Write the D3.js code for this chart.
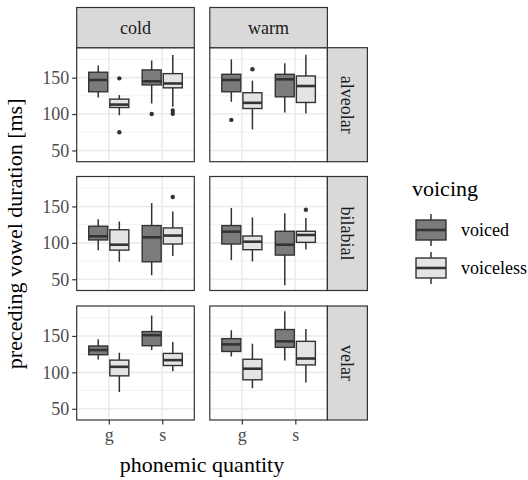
<!DOCTYPE html>
<html><head><meta charset="utf-8">
<script src="https://cdn.jsdelivr.net/npm/d3@7"></script>
<style>body{margin:0;background:#fff}svg{display:block}text{font-family:"Liberation Serif","Times New Roman",serif}</style>
</head><body><svg id="c" width="528" height="480"></svg>
<script>
const temps = ["cold", "warm"];
const places = ["alveolar", "bilabial", "velar"];
const quantities = ["g", "s"];
const voicings = ["voiced", "voiceless"];
const yTicks = [50, 100, 150];
const yMinor = [75, 125, 175];
// [temp, quantity, voicing, lowerWhisker, q1, median, q3, upperWhisker]
const alveolarStats = [
  ["cold","g","voiced",122.8,130.6,146.8,157.4,166.6],
  ["cold","g","voiceless",98.4,109,113,120.5,126],
  ["cold","s","voiced",114.5,140,145,160.6,173.5],
  ["cold","s","voiceless",110,136,142,155.5,181],
  ["warm","g","voiced",116.8,130.6,146.8,154.6,175],
  ["warm","g","voiceless",79,107.6,115.4,129.3,145.9],
  ["warm","s","voiced",102,123.7,147.7,154.6,169.8],
  ["warm","s","voiceless",100.7,115.9,138.5,152.3,181.3]
];
const bilabialStats = [
  ["cold","g","voiced",90,104,109,122.8,132.5],
  ["cold","g","voiceless",74,90,97.5,118,129.3],
  ["cold","s","voiced",55.5,74,107.6,123.7,154.6],
  ["cold","s","voiceless",81.8,98.4,110,120.5,143],
  ["warm","g","voiced",76.3,98.4,115.4,123.7,148],
  ["warm","g","voiceless",74.4,90.6,101.6,109.4,135],
  ["warm","s","voiced",41.7,83.2,97.5,115.9,140.8],
  ["warm","s","voiceless",91,100.7,110.8,115.9,134.3]
];
const velarStats = [
  ["cold","g","voiced",117.7,124.2,130.6,136.2,145.4],
  ["cold","g","voiceless",73,95.2,107.6,116.8,127],
  ["cold","s","voiced",130.6,136.6,151,156,178],
  ["cold","s","voiceless",101.6,109.4,116.8,126,141.7],
  ["warm","g","voiced",121.8,128.7,138.4,146.3,157.9],
  ["warm","g","voiceless",78.2,89.8,105,118,139.4],
  ["warm","s","voiced",116.2,134.3,142.6,158.8,184],
  ["warm","s","voiceless",86,110.2,119,142.6,159.7]
];
// [place, temp, quantity, voicing, value]
const outliers = [
  ["alveolar","cold","g","voiceless",149],
  ["alveolar","cold","g","voiceless",75],
  ["alveolar","cold","s","voiced",100],
  ["alveolar","cold","s","voiceless",105],
  ["alveolar","cold","s","voiceless",100.5],
  ["alveolar","warm","g","voiced",92],
  ["alveolar","warm","g","voiceless",161.5],
  ["bilabial","cold","s","voiceless",163],
  ["bilabial","warm","s","voiceless",145.4]
];
const fills = ["#7b7b7b", "#e4e4e4"];

const FONT = "'Liberation Serif', 'Times New Roman', serif";
const statsByPlace = {alveolar: alveolarStats, bilabial: bilabialStats, velar: velarStats};
const svg = d3.select("#c");
const colX = [76.7, 209.8], panelW = 117.6;
const rowY = [47.7, 176.5, 306], panelH = 114;
const allVals = [...alveolarStats, ...bilabialStats, ...velarStats].flatMap(r => [r[3], r[7]]).concat(outliers.map(o => o[4]));
const ext = d3.extent(allVals), pad = (ext[1] - ext[0]) * 0.05;
const y = d3.scaleLinear().domain([ext[0] - pad, ext[1] + pad]).range([panelH, 0]);
const x = d3.scalePoint().domain(quantities).range([0, panelW]).padding(0.6);
const sub = d3.scaleBand().domain(voicings).range([-0.375 * x.step(), 0.375 * x.step()]).paddingInner(0.1);
const color = d3.scaleOrdinal().domain(voicings).range(fills);

places.forEach((pl, ri) => {
  temps.forEach((tp, ci) => {
    const g = svg.append("g").attr("transform", `translate(${colX[ci]},${rowY[ri]})`);
    g.append("rect").attr("width", panelW).attr("height", panelH).attr("fill", "#fff");
    yMinor.forEach(v => g.append("line").attr("x1", 0).attr("x2", panelW).attr("y1", y(v)).attr("y2", y(v)).attr("stroke", "#f2f2f2").attr("stroke-width", 1));
    yTicks.forEach(v => g.append("line").attr("x1", 0).attr("x2", panelW).attr("y1", y(v)).attr("y2", y(v)).attr("stroke", "#ebebeb").attr("stroke-width", 1.6));
    quantities.forEach(q => g.append("line").attr("x1", x(q)).attr("x2", x(q)).attr("y1", 0).attr("y2", panelH).attr("stroke", "#ebebeb").attr("stroke-width", 1.6));
    const rows = statsByPlace[pl].filter(r => r[0] === tp);
    rows.forEach(r => {
      const cx = x(r[1]) + sub(r[2]), bw = sub.bandwidth(), mx = cx + bw / 2;
      g.append("line").attr("x1", mx).attr("x2", mx).attr("y1", y(r[7])).attr("y2", y(r[6])).attr("stroke", "#333").attr("stroke-width", 1.5);
      g.append("line").attr("x1", mx).attr("x2", mx).attr("y1", y(r[4])).attr("y2", y(r[3])).attr("stroke", "#333").attr("stroke-width", 1.5);
      g.append("rect").attr("x", cx).attr("width", bw).attr("y", y(r[6])).attr("height", y(r[4]) - y(r[6])).attr("fill", color(r[2])).attr("stroke", "#333").attr("stroke-width", 1.4);
      g.append("line").attr("x1", cx).attr("x2", cx + bw).attr("y1", y(r[5])).attr("y2", y(r[5])).attr("stroke", "#333").attr("stroke-width", 2.6);
    });
    outliers.filter(o => o[0] === pl && o[1] === tp).forEach(o => {
      g.append("circle").attr("cx", x(o[2]) + sub(o[3]) + sub.bandwidth() / 2).attr("cy", y(o[4])).attr("r", 2.2).attr("fill", "#333");
    });
    g.append("rect").attr("width", panelW).attr("height", panelH).attr("fill", "none").attr("stroke", "#333").attr("stroke-width", 1.2);
    if (ci === 0) {
      const ax = g.append("g").call(d3.axisLeft(y).tickValues(yTicks).tickSize(4.5).tickPadding(3));
      ax.attr("font-family", FONT).attr("font-size", 18);
      ax.select(".domain").remove();
      ax.selectAll(".tick line").attr("stroke", "#333").attr("stroke-width", 1.2);
      ax.selectAll(".tick text").attr("fill", "#4d4d4d");
    }
    if (ri === places.length - 1) {
      const ax = g.append("g").attr("transform", `translate(0,${panelH})`).call(d3.axisBottom(x).tickSize(4.5).tickPadding(4));
      ax.attr("font-family", FONT).attr("font-size", 18);
      ax.select(".domain").remove();
      ax.selectAll(".tick line").attr("stroke", "#333").attr("stroke-width", 1.2);
      ax.selectAll(".tick text").attr("fill", "#4d4d4d");
    }
    if (ri === 0) {
      svg.append("rect").attr("x", colX[ci]).attr("y", 7.5).attr("width", panelW).attr("height", rowY[0] - 7.5).attr("fill", "#d9d9d9").attr("stroke", "#333").attr("stroke-width", 1.2);
      svg.append("text").attr("x", colX[ci] + panelW / 2).attr("y", (7.5 + rowY[0]) / 2).attr("dy", "0.35em").attr("text-anchor", "middle").attr("fill", "#1a1a1a").attr("font-size", 18).text(tp);
    }
    if (ci === temps.length - 1) {
      const sx = colX[ci] + panelW, sw = 40;
      svg.append("rect").attr("x", sx).attr("y", rowY[ri]).attr("width", sw).attr("height", panelH).attr("fill", "#d9d9d9").attr("stroke", "#333").attr("stroke-width", 1.2);
      svg.append("text").attr("transform", `translate(${sx + sw / 2},${rowY[ri] + panelH / 2}) rotate(90)`).attr("dy", "0.35em").attr("text-anchor", "middle").attr("fill", "#1a1a1a").attr("font-size", 18).text(pl);
    }
  });
});

const midX = (colX[0] + colX[1] + panelW) / 2;
svg.append("text").attr("x", midX).attr("y", 472).attr("text-anchor", "middle").attr("fill", "#000").attr("font-size", 22).text("phonemic quantity");
svg.append("text").attr("transform", `translate(22,${(rowY[0] + rowY[2] + panelH) / 2}) rotate(-90)`).attr("text-anchor", "middle").attr("fill", "#000").attr("font-size", 22).text("preceding vowel duration [ms]");

// legend
const lg = svg.append("g").attr("transform", "translate(412,0)");
lg.append("text").attr("x", 0).attr("y", 196).attr("fill", "#000").attr("font-size", 22).text("voicing");
voicings.forEach((v, i) => {
  const cy = 230 + i * 38;
  const kx = 4, kw = 30;
  lg.append("line").attr("x1", kx + kw / 2).attr("x2", kx + kw / 2).attr("y1", cy - 16).attr("y2", cy + 16).attr("stroke", "#333").attr("stroke-width", 1.5);
  lg.append("rect").attr("x", kx).attr("y", cy - 10).attr("width", kw).attr("height", 20).attr("fill", color(v)).attr("stroke", "#333").attr("stroke-width", 1.4);
  lg.append("line").attr("x1", kx).attr("x2", kx + kw).attr("y1", cy).attr("y2", cy).attr("stroke", "#333").attr("stroke-width", 2.6);
  lg.append("text").attr("x", 49).attr("y", cy).attr("dy", "0.32em").attr("fill", "#000").attr("font-size", 18).text(v);
});
svg.selectAll("text").style("font-family", FONT);
</script></body></html>
